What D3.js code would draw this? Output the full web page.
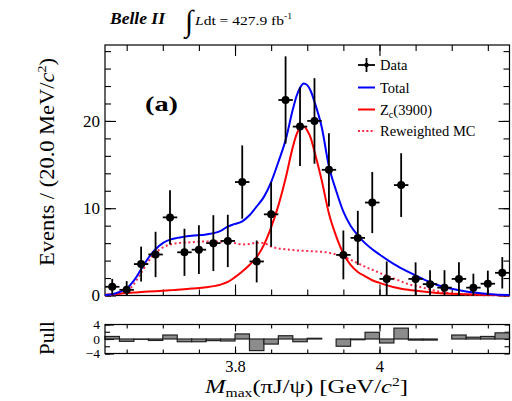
<!DOCTYPE html>
<html><head><meta charset="utf-8">
<script src="https://cdn.jsdelivr.net/npm/d3@7"></script>
<style>body{margin:0;background:#fff}svg{display:block}text{font-family:"Liberation Serif","DejaVu Serif",serif !important;fill:#000}</style>
</head><body>
<svg id="c" width="512" height="401"></svg>
<script>
// ---- data ----
const binCenters = [3.63,3.65,3.67,3.69,3.71,3.73,3.75,3.77,3.79,3.81,3.83,3.85,3.87,3.89,3.91,3.93,3.95,3.97,3.99,4.01,4.03,4.05,4.07,4.09,4.11,4.13,4.15,4.17];
const dataValues = [1.0,0.65,3.6,4.7,8.95,4.95,5.25,6.0,6.25,13.0,3.9,9.3,22.4,19.35,20.0,14.4,4.65,6.6,10.65,1.9,12.65,1.9,1.3,0.9,1.9,0.9,1.35,2.6];
const dataErrors = [0.9,1.0,2.0,2.6,3.1,2.7,2.8,3.2,3.0,4.2,2.4,3.7,5.0,4.5,4.9,4.2,2.8,3.1,3.5,2.0,3.65,1.9,1.6,2.0,1.9,1.6,1.5,1.8];
const pullValues = [0.7,-0.65,-0.1,-0.4,1.1,-0.75,-0.75,-0.45,-0.55,1.4,-3.2,-1.4,0.9,-0.75,0.2,0.0,-2.0,-0.2,1.85,-1.1,3.0,-0.3,-0.3,0.0,1.1,0.5,0.7,1.7];
const curveX = [3.62,3.63,3.64,3.65,3.66,3.67,3.68,3.69,3.70,3.71,3.72,3.74,3.76,3.78,3.79,3.80,3.81,3.82,3.83,3.84,3.85,3.86,3.87,3.88,3.885,3.89,3.895,3.90,3.905,3.91,3.92,3.93,3.94,3.95,3.96,3.97,3.98,3.99,4.00,4.02,4.04,4.06,4.08,4.10,4.12,4.14,4.16,4.18];
const totalCurve = [0.05,0.15,0.4,0.8,1.7,3.0,4.3,5.3,6.0,6.4,6.6,6.85,7.0,7.4,7.9,8.2,8.5,9.2,10.2,11.3,13.0,15.3,17.8,21.3,22.8,23.8,24.3,24.1,23.4,22.2,19.3,14.8,12.0,9.6,8.0,6.9,6.0,5.3,4.7,3.6,2.7,1.9,1.2,0.77,0.45,0.25,0.12,0.07];
const zcCurve = [0.1,0.15,0.2,0.28,0.35,0.4,0.45,0.5,0.55,0.6,0.65,0.8,0.95,1.25,1.55,2.1,2.75,3.5,4.4,5.8,7.8,10.3,13.4,17.0,18.4,19.2,19.35,18.9,18.0,16.5,13.2,9.4,6.8,4.8,3.5,2.7,2.2,1.75,1.45,0.95,0.65,0.45,0.3,0.2,0.13,0.08,0.05,0.03];
const mcCurve = [0,0.1,0.2,0.5,1.3,2.6,3.9,4.9,5.5,5.85,6.0,6.1,6.2,6.15,6.2,6.0,5.85,5.9,6.05,6.0,5.6,5.4,5.3,5.2,5.17,5.15,5.12,5.1,5.08,5.05,5.0,4.9,4.7,4.45,4.1,3.7,3.3,2.95,2.6,1.95,1.3,0.9,0.5,0.25,0.12,0.05,0.02,0.0];
const yMajorTicks = [0,10,20];
const xMajorTicks = [3.8,4.0];
const xTickLabels = ["3.8","4"];
const pullTicks = [-4,0,4];
const pullTickLabels = ["\u22124","0","4"];
const legendLabels = ["Data","Total","Zc(3900)","Reweighted MC"];
const binWidth = 0.02;

// ---- layout ----
const svg = d3.select("#c");
const L = 105, R = 509.5, T = 45, B = 295.5, PT = 324.5, PB = 353.5;
const x = d3.scaleLinear().domain([3.62, 4.18]).range([L, R]);
const y = d3.scaleLinear().domain([0, 28.7]).range([B, T]);
const yp = d3.scaleLinear().domain([-4, 4]).range([PB, PT]);
const xMinor = d3.range(3.65, 4.18, 0.05).map(v => +v.toFixed(2));
const yMinor = d3.range(0, 28.7, 2);
const pMinor = [-4,-2,0,2,4];
const SERIF = '"Liberation Serif", serif';

function styleAxis(g){ g.select(".domain").remove(); g.selectAll("line").attr("stroke","#000").attr("stroke-width",1.1); g.attr("font-family",SERIF); }
function labelFont(size){ return g=>g.selectAll("text").attr("font-size",size).style("font-size",size+"px").style("font-family",SERIF); }

// main panel axes (inside ticks)
svg.append("g").attr("transform",`translate(${L},0)`).call(d3.axisLeft(y).tickValues(yMinor).tickSizeInner(-6).tickFormat("")).call(styleAxis);
svg.append("g").attr("transform",`translate(${L},0)`).call(d3.axisLeft(y).tickValues(yMajorTicks).tickSizeInner(-11).tickPadding(5).tickFormat(d3.format("d")))
  .call(styleAxis).call(labelFont(17));
svg.append("g").attr("transform",`translate(${R},0)`).call(d3.axisRight(y).tickValues(yMinor).tickSizeInner(-6).tickFormat("")).call(styleAxis);
svg.append("g").attr("transform",`translate(${R},0)`).call(d3.axisRight(y).tickValues(yMajorTicks).tickSizeInner(-11).tickFormat("")).call(styleAxis);
svg.append("g").attr("transform",`translate(0,${B})`).call(d3.axisBottom(x).tickValues(xMinor).tickSizeInner(-6).tickFormat("")).call(styleAxis);
svg.append("g").attr("transform",`translate(0,${B})`).call(d3.axisBottom(x).tickValues(xMajorTicks).tickSizeInner(-11).tickFormat("")).call(styleAxis);
svg.append("g").attr("transform",`translate(0,${T})`).call(d3.axisTop(x).tickValues(xMinor).tickSizeInner(-6).tickFormat("")).call(styleAxis);
svg.append("g").attr("transform",`translate(0,${T})`).call(d3.axisTop(x).tickValues(xMajorTicks).tickSizeInner(-11).tickFormat("")).call(styleAxis);
svg.append("rect").attr("x",L).attr("y",T).attr("width",R-L).attr("height",B-T).attr("fill","none").attr("stroke","#000").attr("stroke-width",1.2);

// curves
const line = arr => d3.line().x((d,i)=>x(curveX[i])).y(d=>y(d)).curve(d3.curveMonotoneX)(arr);
svg.append("path").attr("d",line(mcCurve)).attr("fill","none").attr("stroke","#ff2a4a").attr("stroke-width",2).attr("stroke-dasharray","2,2.6");
svg.append("path").attr("d",line(zcCurve)).attr("fill","none").attr("stroke","#ff0000").attr("stroke-width",2);
svg.append("path").attr("d",line(totalCurve)).attr("fill","none").attr("stroke","#0000ff").attr("stroke-width",2);

// data points
const pts = svg.append("g");
binCenters.forEach((c,i)=>{
  const v = dataValues[i], e = dataErrors[i];
  pts.append("line").attr("x1",x(c-binWidth/2)).attr("x2",x(c+binWidth/2)).attr("y1",y(v)).attr("y2",y(v)).attr("stroke","#000").attr("stroke-width",1.8);
  pts.append("line").attr("x1",x(c)).attr("x2",x(c)).attr("y1",y(v+e)).attr("y2",y(Math.max(0,v-e))).attr("stroke","#000").attr("stroke-width",1.8);
  pts.append("circle").attr("cx",x(c)).attr("cy",y(v)).attr("r",4).attr("fill","#000");
});

// label (a)
svg.append("text").attr("x",145).attr("y",111).attr("font-size",21).attr("font-weight","bold").attr("textLength",33).attr("lengthAdjust","spacingAndGlyphs").text("(a)");

// legend
const lgX0 = 358, lgX1 = 375, lgY = [65,87.5,109.5,131];
const lg = svg.append("g");
legendLabels.forEach((lab,i)=>{
  const yy = lgY[i];
  if(i===0){
    lg.append("line").attr("x1",lgX0).attr("x2",lgX1).attr("y1",yy).attr("y2",yy).attr("stroke","#000").attr("stroke-width",1.8);
    lg.append("line").attr("x1",(lgX0+lgX1)/2).attr("x2",(lgX0+lgX1)/2).attr("y1",yy-7).attr("y2",yy+7).attr("stroke","#000").attr("stroke-width",1.8);
    lg.append("circle").attr("cx",(lgX0+lgX1)/2).attr("cy",yy).attr("r",2.2).attr("fill","#000");
  } else {
    const col = i===1?"#0000ff":(i===2?"#ff0000":"#ff2a4a");
    const l = lg.append("line").attr("x1",lgX0).attr("x2",lgX1).attr("y1",yy).attr("y2",yy).attr("stroke",col).attr("stroke-width",2);
    if(i===3) l.attr("stroke-dasharray","2,2.2");
  }
  const t = lg.append("text").attr("x",380).attr("y",yy+5).attr("font-size",14.5);
  if(i===2){ t.append("tspan").text("Z"); t.append("tspan").attr("font-size",10).attr("dy",3).text("c"); t.append("tspan").attr("dy",-3).text("(3900)"); }
  else t.text(lab);
});

// header
svg.append("text").attr("x",110).attr("y",24).attr("font-size",17).attr("font-weight","bold").attr("font-style","italic").attr("textLength",55).attr("lengthAdjust","spacingAndGlyphs").text("Belle II");
svg.append("text").attr("x",185).attr("y",31).attr("font-size",30).text("\u222B");
const ht = svg.append("text").attr("x",195).attr("y",25).attr("font-size",13).attr("textLength",97).attr("lengthAdjust","spacingAndGlyphs");
ht.append("tspan").attr("font-style","italic").text("L");
ht.append("tspan").text("dt = 427.9 fb");
ht.append("tspan").attr("font-size",8).attr("dy",-6).text("-1");

// y title
const yt = svg.append("text").attr("transform","translate(54,162) rotate(-90)").attr("text-anchor","middle").attr("font-size",21).attr("textLength",208).attr("lengthAdjust","spacingAndGlyphs");
yt.append("tspan").text("Events / (20.0 MeV/");
yt.append("tspan").attr("font-style","italic").text("c");
yt.append("tspan").attr("font-size",13).attr("dy",-8).text("2");
yt.append("tspan").attr("dy",8).text(")");

// pull panel
svg.append("g").attr("transform",`translate(${L},0)`).call(d3.axisLeft(yp).tickValues(pMinor).tickSizeInner(-5).tickFormat("")).call(styleAxis);
svg.append("g").attr("transform",`translate(${L},0)`).call(d3.axisLeft(yp).tickValues(pullTicks).tickSizeInner(-9).tickPadding(5).tickFormat((d,i)=>pullTickLabels[i]))
  .call(styleAxis).call(labelFont(13.5));
svg.append("g").attr("transform",`translate(${R},0)`).call(d3.axisRight(yp).tickValues(pMinor).tickSizeInner(-5).tickFormat("")).call(styleAxis);
svg.append("g").attr("transform",`translate(0,${PB})`).call(d3.axisBottom(x).tickValues(xMinor).tickSizeInner(-4).tickFormat("")).call(styleAxis);
svg.append("g").attr("transform",`translate(0,${PB})`).call(d3.axisBottom(x).tickValues(xMajorTicks).tickSizeInner(-7).tickPadding(7).tickFormat((d,i)=>xTickLabels[i]))
  .call(styleAxis).call(labelFont(16.5));
svg.append("g").attr("transform",`translate(0,${PT})`).call(d3.axisTop(x).tickValues(xMinor).tickSizeInner(-4).tickFormat("")).call(styleAxis);
svg.append("g").attr("transform",`translate(0,${PT})`).call(d3.axisTop(x).tickValues(xMajorTicks).tickSizeInner(-7).tickFormat("")).call(styleAxis);

svg.append("g").selectAll("rect").data(binCenters).join("rect")
  .attr("x",c=>x(c-binWidth/2)).attr("width",c=>x(c+binWidth/2)-x(c-binWidth/2))
  .attr("y",(c,i)=>Math.min(yp(pullValues[i]),yp(0))).attr("height",(c,i)=>Math.abs(yp(pullValues[i])-yp(0)))
  .attr("fill","#8c8c8c").attr("stroke","#222").attr("stroke-width",1.2);
svg.append("rect").attr("x",L).attr("y",PT).attr("width",R-L).attr("height",PB-PT).attr("fill","none").attr("stroke","#000").attr("stroke-width",1.2);

svg.append("text").attr("transform","translate(54,338) rotate(-90)").attr("text-anchor","middle").attr("font-size",21).text("Pull");

// x title
const xt = svg.append("text").attr("x",205).attr("y",393).attr("font-size",19).attr("textLength",203).attr("lengthAdjust","spacingAndGlyphs");
xt.append("tspan").attr("font-style","italic").text("M");
xt.append("tspan").attr("font-size",12).attr("dy",3.5).text("max");
xt.append("tspan").attr("dy",-3.5).text("(\u03C0J/\u03C8) [GeV/");
xt.append("tspan").attr("font-style","italic").text("c");
xt.append("tspan").attr("font-size",12).attr("dy",-7.5).text("2");
xt.append("tspan").attr("dy",7.5).text("]");
</script>
</body></html>
